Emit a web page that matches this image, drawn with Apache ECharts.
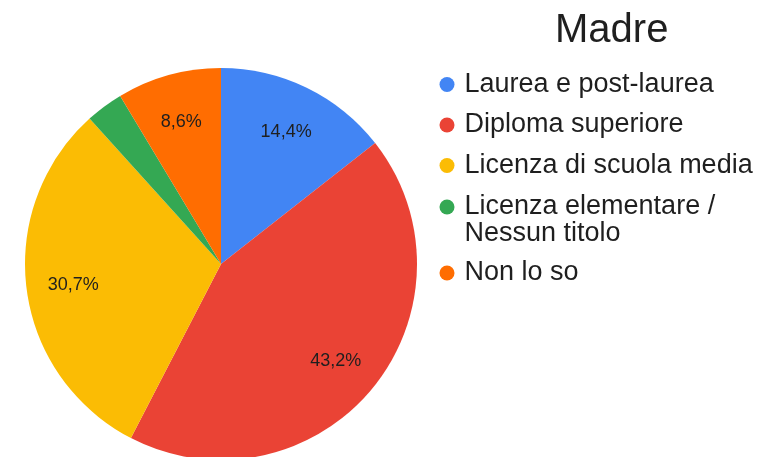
<!DOCTYPE html>
<html><head><meta charset="utf-8">
<script src="https://cdn.jsdelivr.net/npm/echarts@6/dist/echarts.min.js"></script>
<style>html,body{margin:0;padding:0;background:#fff}#c{width:759px;height:457px}</style>
</head><body><div id="c"></div>
<script>
const chartTitle = 'Madre';
const categories = ['Laurea e post-laurea', 'Diploma superiore', 'Licenza di scuola media', 'Licenza elementare / Nessun titolo', 'Non lo so'];
const values = [14.4, 43.2, 30.7, 3.1, 8.6];
const colors = ['#4285F4', '#EA4335', '#FBBC04', '#34A853', '#FF6D01'];

const FONT = '"Liberation Sans", Arial, sans-serif';
const pieData = categories.map((n, i) => ({ name: n, value: values[i], itemStyle: { color: colors[i] } }));
const labelData = categories.map((n, i) => ({ name: n, value: values[i] }));
const fmt = p => p.value.toFixed(1).replace('.', ',') + '%';

const legendBase = {
  orient: 'vertical', left: 439.5, padding: 0, icon: 'circle',
  itemWidth: 25, itemHeight: 15, itemGap: 13.5,
  textStyle: { fontFamily: FONT, fontSize: 27, lineHeight: 27, color: '#1f1f1f' }
};

const chart = echarts.init(document.getElementById('c'), null, { renderer: 'canvas' });
chart.setOption({
  backgroundColor: '#fff',
  animation: false,
  title: {
    text: chartTitle, left: 555, top: 8.5, padding: 0,
    textStyle: { fontFamily: FONT, fontSize: 40, lineHeight: 44, fontWeight: 'normal', color: '#1f1f1f' }
  },
  legend: [
    Object.assign({}, legendBase, { top: 71, data: categories.slice(0, 3) }),
    Object.assign({}, legendBase, { top: 166.5, data: [categories[3]],
      formatter: () => '\nLicenza elementare /\nNessun titolo' }),
    Object.assign({}, legendBase, { top: 259.5, data: [categories[4]] })
  ],
  series: [
    {
      type: 'pie', center: [221, 264], radius: 196, startAngle: 90, clockwise: true,
      label: { show: false }, labelLine: { show: false },
      itemStyle: { borderWidth: 0 },
      emphasis: { disabled: true },
      data: pieData
    },
    {
      type: 'pie', center: [221, 266], radius: [96, 196], startAngle: 90, clockwise: true,
      silent: true, minShowLabelAngle: 20,
      itemStyle: { color: 'rgba(0,0,0,0)', borderWidth: 0 },
      label: { show: true, position: 'inside', formatter: fmt, fontFamily: FONT, fontSize: 18, color: '#1f1f1f' },
      labelLine: { show: false },
      emphasis: { disabled: true },
      data: labelData
    }
  ]
});
</script></body></html>
